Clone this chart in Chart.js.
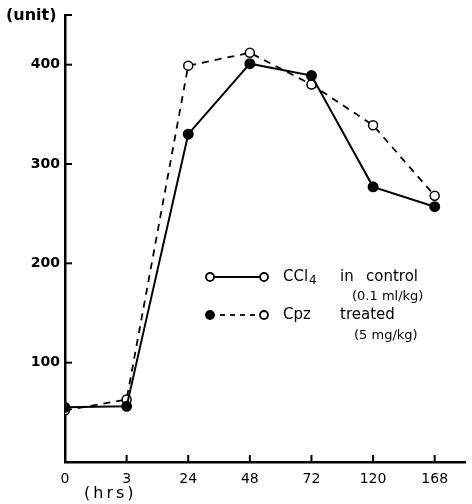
<!DOCTYPE html>
<html>
<head>
<meta charset="utf-8">
<script src="https://cdn.jsdelivr.net/npm/chart.js@4/dist/chart.umd.min.js"></script>
<style>
  html, body { margin: 0; background: #fff; overflow: hidden; }
  canvas { display: block; }
</style>
</head>
<body>
<canvas id="myChart" width="472" height="504"></canvas>
<script>
// hours after dosing (category labels)
const hours = ['0', '3', '24', '48', '72', '120', '168'];
// CCl4 in control (solid line, filled dots)
const controlValues = [55, 56, 330, 401, 389, 277, 257];
// Cpz treated (dashed line, open dots)
const cpzValues = [52, 63, 399, 412, 380, 339, 268];
const yTicks = [100, 200, 300, 400];

const font = "'DejaVu Sans', sans-serif";

const toPoints = arr => arr.map((v, i) => ({ x: i, y: v }));

// little tick marks pointing into the plot, axis titles and the hand drawn legend
const extras = {
  id: 'extras',
  afterDraw(chart) {
    const ctx = chart.ctx;
    const x = chart.scales.x, y = chart.scales.y;
    const left = chart.chartArea.left, bottom = chart.chartArea.bottom;
    ctx.save();
    ctx.setLineDash([]);
    ctx.strokeStyle = '#000';
    ctx.lineWidth = 2;
    yTicks.concat([450]).forEach(v => {
      const py = y.getPixelForValue(v);
      ctx.beginPath(); ctx.moveTo(left, py); ctx.lineTo(left + 7, py); ctx.stroke();
    });
    hours.forEach((h, i) => {
      if (i === 0) return;
      const px = x.getPixelForValue(i);
      ctx.beginPath(); ctx.moveTo(px, bottom); ctx.lineTo(px, bottom - 7); ctx.stroke();
    });

    ctx.fillStyle = '#000';
    ctx.font = 'bold 16px ' + font;
    ctx.textBaseline = 'middle';
    ctx.textAlign = 'left';
    ctx.fillText('(unit)', 6, 16);
    ctx.font = '16px ' + font;
    ctx.letterSpacing = '3px';
    ctx.fillText('(hrs)', 84, 494);
    ctx.letterSpacing = '0px';

    // legend
    const dot = (cx, cy, filled) => {
      ctx.beginPath();
      ctx.arc(cx, cy, 4, 0, Math.PI * 2);
      ctx.fillStyle = filled ? '#000' : '#fff';
      ctx.fill();
      ctx.lineWidth = 1.8;
      ctx.stroke();
    };
    ctx.lineWidth = 2;
    ctx.beginPath(); ctx.moveTo(210, 277); ctx.lineTo(264, 277); ctx.stroke();
    dot(210, 277, false); dot(264, 277, false);
    ctx.setLineDash([5, 5]);
    ctx.beginPath(); ctx.moveTo(210, 315); ctx.lineTo(264, 315); ctx.stroke();
    ctx.setLineDash([]);
    dot(210, 315, true); dot(264, 315, false);

    ctx.fillStyle = '#000';
    ctx.font = '15px ' + font;
    ctx.fillText('CCl', 283, 277);
    const w = ctx.measureText('CCl').width;
    ctx.font = '12px ' + font;
    ctx.fillText('4', 283 + w + 1, 281);
    ctx.font = '15px ' + font;
    ctx.fillText('in', 340, 277);
    ctx.fillText('control', 366, 277);
    ctx.fillText('Cpz', 283, 315);
    ctx.fillText('treated', 340, 315);
    ctx.font = '13px ' + font;
    ctx.fillText('(0.1 ml/kg)', 352, 297);
    ctx.fillText('(5 mg/kg)', 354, 336);
    ctx.restore();
  }
};

new Chart(document.getElementById('myChart'), {
  type: 'line',
  data: {
    datasets: [
      {
        label: 'CCl4 in control',
        data: toPoints(controlValues),
        borderColor: '#000',
        borderWidth: 2,
        pointRadius: 4.5,
        pointBackgroundColor: '#000',
        pointBorderColor: '#000',
        tension: 0
      },
      {
        label: 'Cpz treated',
        data: toPoints(cpzValues),
        borderColor: '#000',
        borderWidth: 1.8,
        borderDash: [7, 6],
        pointRadius: 4.5,
        pointBackgroundColor: '#fff',
        pointBorderColor: '#000',
        pointBorderWidth: 1.5,
        tension: 0
      }
    ]
  },
  options: {
    responsive: false,
    animation: false,
    layout: { padding: { top: 15, right: 0, left: 0, bottom: 0 } },
    scales: {
      x: {
        type: 'linear',
        min: 0,
        max: 6.5,
        afterBuildTicks: s => { s.ticks = hours.map((h, i) => ({ value: i })); },
        afterFit: s => { s.height = 42; },
        grid: { display: false, drawTicks: false },
        border: { display: true, color: '#000', width: 2.5 },
        ticks: {
          padding: 9,
          color: '#000',
          font: { family: font, size: 14 },
          callback: v => hours[v]
        }
      },
      y: {
        min: 0,
        max: 450,
        afterBuildTicks: s => { s.ticks = yTicks.map(v => ({ value: v })); },
        afterFit: s => { s.width = 65; },
        grid: { display: false, drawTicks: false },
        border: { display: true, color: '#000', width: 2.5 },
        ticks: {
          padding: 5,
          color: '#000',
          font: { family: font, size: 14, weight: 'bold' }
        }
      }
    },
    plugins: {
      legend: { display: false },
      tooltip: { enabled: false }
    }
  },
  plugins: [extras]
});
</script>
</body>
</html>
